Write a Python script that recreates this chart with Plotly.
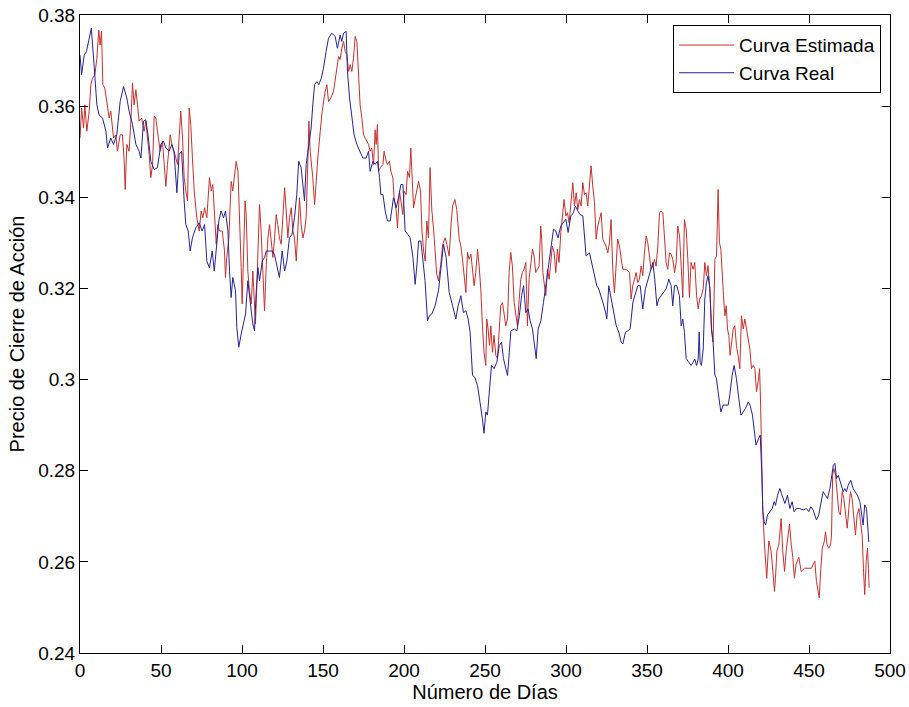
import plotly.graph_objects as go

# ---- Data ----
dias_real = [0, 1, 2.6, 4, 5.7, 7, 8.7, 10.4, 11.8, 13.9, 16, 17, 19, 20.7, 22.7, 24.8, 26.9, 28.9, 30.3, 32.4,
             34.5, 36.5, 37.6, 39.2, 40.6, 42, 43.7, 45.8, 47.8, 49.9, 51.5, 53, 55, 56.7, 58.1, 59.8, 61.2, 62.7,
             64.3, 65.3, 66.8, 68, 69.4, 71.5, 73.6, 75.4, 76.9, 78.3, 79.9, 81.6, 82.9, 84.5, 85.7, 87.1, 88.6,
             89.8, 91.3, 92.3, 93.3, 94.3, 96, 96.8, 98, 99.5, 100.5, 102.2, 103.6, 104.6, 105.7, 106.7, 107.7,
             108.7, 109.8, 110.8, 112.5, 113.9, 115, 117, 118.6, 120, 121.5, 123.1, 124.8, 126.3, 127.7, 129.3,
             130.9, 132.4, 133.8, 135, 136.5, 137.6, 138.6, 139.6, 141.2, 142.7, 143.7, 144.8, 146.2, 147.4, 148.9,
             150.3, 151.9, 153.4, 155.4, 157.5, 158.9, 160.6, 161.6, 162.7, 164.3, 165.1, 166.4, 167.8, 169.2,
             170.9, 172.9, 174.6, 176.6, 178.1, 179.1, 180.8, 182.2, 183.6, 184.9, 185.7, 187, 188.4, 189.8, 191.5,
             193.5, 195.2, 196.6, 198.1, 199.3, 200.7, 202.2, 203.8, 205.5, 206.9, 208, 209, 210.4, 211.7, 213,
             214.5, 215.7, 217.2, 219.2, 221.3, 222.7, 224.4, 226, 227.9, 230, 232, 233.4, 235.1, 236.7, 238.2,
             239.6, 240.8, 242.3, 243.7, 245.4, 247, 248.4, 249.4, 250.5, 251.5, 252.6, 254, 255.6, 257.3, 258.8,
             260.2, 261.4, 262.9, 263.9, 265, 266, 268.1, 269.7, 271.2, 272.6, 273.8, 275.2, 276.6, 277.9, 279.3,
             280.8, 281.6, 282.8, 284.5, 286.1, 287.5, 289, 290.6, 292.3, 293.7, 295.1, 296.8, 298.4, 299.9, 301.3,
             303, 304.6, 305.8, 307.3, 308.7, 310.4, 311.4, 312.4, 314.5, 316.1, 317.6, 319, 320.2, 321.7, 322.7,
             324.4, 325.2, 326.4, 327.9, 329.3, 331, 332.6, 334.1, 335.1, 336.7, 338.2, 339.6, 341.3, 342.9, 344.3,
             345.8, 347.4, 349, 350.5, 352, 353.6, 354.8, 356.1, 357.3, 358.8, 360.2, 361.8, 363.5, 364.9, 365.9,
             367, 368.4, 370, 371.1, 372.1, 373.1, 374.2, 375.8, 377.2, 378.5, 379.5, 380.6, 381.6, 382.2, 382.8,
             383.6, 384.7, 385.7, 386.7, 387.7, 388.8, 389.8, 390.8, 391.9, 392.9, 393.9, 395.6, 397, 399.1, 400.1,
             401.1, 402.6, 403.8, 405.2, 406.7, 408, 409.4, 410.8, 412.5, 413.6, 415.1, 416.3, 417.3, 418.8, 419.9,
             420.9, 421.5, 422.3, 423.2, 424.4, 425.8, 427.3, 428.5, 429.3, 430.6, 432, 433, 434, 435.1, 436.7,
             438.2, 439.6, 440.8, 442.3, 444.3, 446.4, 448.4, 449.9, 451.1, 452.5, 453.6, 454.6, 456, 457.3, 458.7,
             460.2, 461.4, 462.9, 463.9, 465, 466, 467, 468.1, 469.7, 471.1, 472.1, 473.1, 474.2, 475.8, 477.2,
             478.7, 479.9, 481.4, 482.4, 483.4, 484.4, 485.5, 486.5, 486.9]
precio_real = [0.3712, 0.3669, 0.3712, 0.372, 0.3749, 0.3771, 0.369, 0.3603, 0.358, 0.3574, 0.3545, 0.3508, 0.353,
               0.3516, 0.3537, 0.361, 0.3643, 0.3618, 0.3589, 0.356, 0.3516, 0.3501, 0.3486, 0.3567, 0.357, 0.3537,
               0.3479, 0.3461, 0.3465, 0.3516, 0.3523, 0.3508, 0.3501, 0.3516, 0.3497, 0.341, 0.3494, 0.3501, 0.3392,
               0.334, 0.3326, 0.3282, 0.3311, 0.3333, 0.3344, 0.3326, 0.334, 0.326, 0.3245, 0.3282, 0.3238, 0.3297,
               0.3348, 0.337, 0.3355, 0.337, 0.3326, 0.3238, 0.318, 0.3224, 0.3195, 0.3115, 0.3071, 0.31, 0.3115,
               0.3144, 0.3217, 0.318, 0.3151, 0.3122, 0.3107, 0.3188, 0.3246, 0.3217, 0.326, 0.3268, 0.3282, 0.3282,
               0.3282, 0.3275, 0.3253, 0.3224, 0.3282, 0.3238, 0.326, 0.3311, 0.3319, 0.3355, 0.3406, 0.3479, 0.3465,
               0.3428, 0.3392, 0.3472, 0.3508, 0.3552, 0.3603, 0.3647, 0.3654, 0.3647, 0.3661, 0.3683, 0.372, 0.3749,
               0.376, 0.3753, 0.3727, 0.3756, 0.3742, 0.376, 0.3764, 0.3676, 0.3618, 0.3581, 0.3537, 0.3516, 0.3501,
               0.3486, 0.3486, 0.3501, 0.3457, 0.3479, 0.3472, 0.3479, 0.3443, 0.3406, 0.3406, 0.337, 0.3348, 0.3348,
               0.3399, 0.3377, 0.3399, 0.3428, 0.3428, 0.3326, 0.3319, 0.3311, 0.3268, 0.3209, 0.3253, 0.3304,
               0.3304, 0.3253, 0.3217, 0.3129, 0.314, 0.3144, 0.3162, 0.3195, 0.3246, 0.3297, 0.3268, 0.3191, 0.3162,
               0.3133, 0.3162, 0.3184, 0.3147, 0.3151, 0.3133, 0.3104, 0.3009, 0.3005, 0.2987, 0.295, 0.2914, 0.2882,
               0.2929, 0.2922, 0.2973, 0.3031, 0.3024, 0.3038, 0.3075, 0.3082, 0.3046, 0.3024, 0.3009, 0.306, 0.3107,
               0.3111, 0.3107, 0.314, 0.3184, 0.3206, 0.3147, 0.3155, 0.3129, 0.3111, 0.3075, 0.3046, 0.3111, 0.3129,
               0.3169, 0.3206, 0.3235, 0.3279, 0.333, 0.3326, 0.3311, 0.3337, 0.3344, 0.3352, 0.3323, 0.3359, 0.3366,
               0.3381, 0.337, 0.3362, 0.3359, 0.3307, 0.3271, 0.3278, 0.325, 0.3228, 0.3206, 0.3199, 0.3184, 0.317,
               0.3148, 0.3133, 0.3206, 0.3177, 0.3148, 0.3118, 0.3104, 0.3082, 0.3078, 0.3104, 0.3107, 0.3111, 0.317,
               0.3191, 0.3206, 0.3206, 0.3155, 0.3199, 0.322, 0.3235, 0.3257, 0.322, 0.3162, 0.3177, 0.3184, 0.3191,
               0.3199, 0.322, 0.3206, 0.3162, 0.3206, 0.3206, 0.3184, 0.3118, 0.3133, 0.3104, 0.3046, 0.3038, 0.3031,
               0.3038, 0.3045, 0.3031, 0.3045, 0.3104, 0.3038, 0.3031, 0.3067, 0.3177, 0.3213, 0.3228, 0.32, 0.3111,
               0.3082, 0.301, 0.3002, 0.2973, 0.2929, 0.2944, 0.2944, 0.2944, 0.2966, 0.301, 0.3031, 0.3002, 0.2958,
               0.2922, 0.2929, 0.2937, 0.2951, 0.2944, 0.2922, 0.2885, 0.2856, 0.287, 0.2878, 0.279, 0.271, 0.2688,
               0.2681, 0.2703, 0.271, 0.2717, 0.2732, 0.2724, 0.2746, 0.2761, 0.275, 0.2739, 0.2728, 0.2746, 0.2717,
               0.2732, 0.271, 0.2717, 0.2717, 0.2714, 0.2717, 0.271, 0.2721, 0.2714, 0.2703, 0.2692, 0.2703, 0.2732,
               0.2754, 0.2746, 0.2739, 0.2761, 0.279, 0.2812, 0.2816, 0.2783, 0.279, 0.2768, 0.2754, 0.2761, 0.2754,
               0.2768, 0.2779, 0.2761, 0.2754, 0.2746, 0.2732, 0.2703, 0.2681, 0.2725, 0.2717, 0.2666, 0.2644]

dias_estimada = [0, 1, 2.2, 3, 4.2, 5.7, 6.7, 7.7, 9.2, 10.4, 11.6, 12.4, 13.3, 14.1, 15.3, 16.6, 18, 19, 20.7,
                 22.1, 23.1, 24.8, 26.2, 27.3, 27.9, 28.9, 30.3, 31.4, 32.4, 33.4, 34.5, 35.5, 36.5, 38, 39.6, 40.6,
                 41.7, 42.7, 43.7, 44.8, 45.8, 46.8, 47.8, 49.5, 50.9, 52, 53, 54, 55.7, 56.7, 58.1, 60.2, 62.2,
                 63.3, 64.3, 65.3, 66.4, 67.4, 68.4, 69.4, 70.5, 72.1, 73.6, 74.8, 75.8, 76.9, 78.3, 79.9, 81, 82,
                 83, 84.1, 85.1, 86.1, 87.8, 89.2, 89.8, 90.6, 91.9, 92.7, 93.3, 94.3, 95.4, 96.4, 97.5, 98.5, 99.5,
                 100.1, 101, 101.9, 102.6, 103.6, 104.6, 105.7, 106.7, 107.7, 108.3, 109.2, 110, 110.8, 111.8, 112.9,
                 113.9, 115, 116, 117, 118.1, 119.1, 120.1, 121.1, 122.1, 123.1, 124.2, 125.2, 126.3, 127.3, 128.3,
                 129.3, 130.4, 131.4, 132.4, 133.5, 134.5, 135.5, 136.5, 137.6, 138.6, 139.6, 140.7, 141.3, 142.1,
                 142.9, 143.7, 144.8, 145.8, 146.8, 148.3, 149.5, 151.3, 152.4, 153.4, 154.8, 156.5, 157.5, 158.5,
                 159.6, 160.6, 161.6, 162.7, 163.7, 164.7, 165.8, 166.8, 167.8, 168.8, 169.9, 170.9, 171.9, 172.9,
                 174, 175, 176, 177, 178.1, 179.1, 180.1, 181.2, 182.2, 182.8, 183.6, 184.3, 185.3, 187, 187.7, 189,
                 189.8, 191, 191.9, 193.1, 193.9, 195.2, 196, 197.2, 198.1, 199.3, 200.1, 201.3, 202.2, 203.4, 204.2,
                 205, 205.9, 207, 208, 209, 210.2, 211.1, 212.1, 213.1, 214.1, 215.1, 216.1, 217.2, 218.2, 219.2,
                 220.2, 221.3, 222.7, 223.9, 225.4, 226.4, 227.9, 229, 230, 231.4, 232.6, 234.1, 235.1, 236.1, 237.1,
                 238.2, 239.2, 240.2, 241.3, 242.3, 243.3, 244.3, 245.4, 246.4, 247.4, 248.4, 249.4, 250.5, 251.1,
                 251.9, 252.8, 253.6, 254.6, 255.6, 256.7, 257.7, 258.7, 259.7, 260.8, 261.8, 262.8, 263.9, 264.9,
                 265.9, 266.9, 268, 269, 270, 271.1, 272.1, 273.1, 274.1, 275.2, 276.2, 277.2, 278.3, 279.3, 280.3,
                 281.3, 282.4, 283.4, 284.4, 285, 285.7, 286.5, 287.5, 288.6, 289.6, 290.6, 291.6, 292.7, 293.7,
                 294.7, 295.7, 296.8, 297.8, 298.8, 299.9, 300.9, 301.9, 303.3, 304.2, 305.2, 306.3, 307.3, 308.3,
                 309.3, 310.4, 311.4, 312.4, 313.4, 314.5, 315.5, 316.5, 317.6, 318.6, 319.6, 320.6, 321.7, 322.7,
                 323.7, 324.7, 325.8, 326.8, 327.8, 328.9, 329.9, 330.9, 331.9, 333, 334, 335, 337.1, 339.2, 340.2,
                 341.2, 342.3, 343.3, 344.3, 345.3, 346.4, 347.4, 348.4, 349.5, 350.5, 351.5, 352.5, 353.6, 354.6,
                 355.6, 356.7, 357.7, 358.7, 359.8, 360.8, 361.8, 362.8, 363.9, 364.9, 365.9, 367, 368, 369, 370.1,
                 371.1, 372.1, 373.1, 374.2, 375.2, 376.2, 377.2, 378.5, 379.5, 380.6, 381.6, 382.6, 383.6, 384.7,
                 385.7, 386.7, 387.7, 388.8, 389.8, 390.8, 391.9, 392.9, 393.9, 394.7, 395.6, 396.4, 397.2, 398.1,
                 398.9, 399.7, 400.5, 401.3, 402.2, 403.2, 404.2, 405.2, 406.2, 407.3, 408.3, 409.4, 410.4, 411.4,
                 412.5, 413.5, 414.5, 415.6, 416.6, 417.6, 418.6, 419.5, 420.1, 420.7, 421.5, 422.5, 423.9, 425.2,
                 426.6, 427.7, 428.7, 429.3, 430.2, 431.4, 432.8, 433.8, 434.9, 435.9, 436.9, 438, 439, 440, 441,
                 442, 443.7, 445.2, 447.2, 449.3, 450.5, 451.5, 452.5, 453.6, 454.6, 455.6, 456.3, 457.3, 458.2,
                 459.4, 460.2, 461.2, 462.2, 463.3, 463.9, 464.6, 465.3, 466.4, 467.4, 468.4, 469.4, 470.5, 471.5,
                 472.5, 473.6, 474.6, 475.6, 476.6, 477.7, 478.7, 479.7, 480.8, 481.8, 482.8, 483.6, 484.4, 485.3,
                 486.1, 486.7, 487.1]
precio_estimada = [0.353, 0.3596, 0.3552, 0.3603, 0.3545, 0.3589, 0.3647, 0.3661, 0.3669, 0.3705, 0.3767, 0.3734,
                   0.3764, 0.3647, 0.364, 0.3603, 0.3574, 0.3589, 0.353, 0.3537, 0.3501, 0.3537, 0.3537, 0.3479,
                   0.3417, 0.3516, 0.3501, 0.3567, 0.3651, 0.3603, 0.3636, 0.3603, 0.3567, 0.3574, 0.3545, 0.3567,
                   0.353, 0.3494, 0.3443, 0.3472, 0.3578, 0.3574, 0.3545, 0.3501, 0.3523, 0.3472, 0.3424, 0.3472,
                   0.3537, 0.3516, 0.3501, 0.3472, 0.3589, 0.353, 0.3443, 0.3414, 0.3392, 0.3596, 0.3559, 0.3486,
                   0.3414, 0.3355, 0.3326, 0.337, 0.3355, 0.3377, 0.3355, 0.3443, 0.3414, 0.3428, 0.3355, 0.3297,
                   0.334, 0.3326, 0.3326, 0.3282, 0.3224, 0.3268, 0.3311, 0.3399, 0.3435, 0.3414, 0.3443, 0.3479,
                   0.3457, 0.337, 0.3246, 0.3166, 0.3297, 0.3392, 0.3362, 0.3238, 0.3195, 0.3166, 0.3238, 0.3151,
                   0.3122, 0.3209, 0.3326, 0.3384, 0.3326, 0.3238, 0.3151, 0.3253, 0.3311, 0.334, 0.3297, 0.3268,
                   0.3311, 0.3362, 0.334, 0.3311, 0.3297, 0.3355, 0.3421, 0.337, 0.3311, 0.3355, 0.3377, 0.3326,
                   0.3311, 0.326, 0.334, 0.3399, 0.334, 0.3311, 0.3326, 0.3355, 0.3486, 0.3567, 0.3501, 0.3472,
                   0.3443, 0.3384, 0.3443, 0.3486, 0.3545, 0.3589, 0.3632, 0.3647, 0.361, 0.3618, 0.3632, 0.3658,
                   0.3676, 0.3709, 0.3702, 0.3727, 0.3742, 0.372, 0.3713, 0.3676, 0.3691, 0.3676, 0.3705, 0.3753,
                   0.3742, 0.3661, 0.3603, 0.3574, 0.3537, 0.353, 0.3523, 0.3516, 0.3501, 0.3508, 0.3472, 0.3548,
                   0.3516, 0.356, 0.3457, 0.3465, 0.3472, 0.3501, 0.3479, 0.3472, 0.3479, 0.3457, 0.3443, 0.3399,
                   0.337, 0.3333, 0.3414, 0.3392, 0.3362, 0.3414, 0.3406, 0.3457, 0.3443, 0.3508, 0.3443, 0.3377,
                   0.3399, 0.3414, 0.3435, 0.3414, 0.3326, 0.3282, 0.326, 0.3348, 0.3311, 0.3465, 0.337, 0.3333,
                   0.3282, 0.3231, 0.3217, 0.3253, 0.3297, 0.3311, 0.3297, 0.3271, 0.3337, 0.3381, 0.3395, 0.3373,
                   0.3308, 0.3293, 0.3264, 0.3235, 0.3191, 0.3279, 0.3264, 0.3275, 0.3242, 0.3206, 0.3235, 0.3286,
                   0.3249, 0.3198, 0.3118, 0.306, 0.3031, 0.3133, 0.3111, 0.3075, 0.3118, 0.306, 0.3097, 0.3053,
                   0.3046, 0.3111, 0.3162, 0.3169, 0.3147, 0.3118, 0.3133, 0.3235, 0.3279, 0.3249, 0.3169, 0.314,
                   0.3118, 0.3176, 0.322, 0.3235, 0.3242, 0.3257, 0.3118, 0.322, 0.3249, 0.3286, 0.3271, 0.3235,
                   0.3242, 0.3249, 0.3337, 0.3308, 0.3235, 0.3206, 0.3184, 0.3242, 0.322, 0.3257, 0.3293, 0.3279,
                   0.3235, 0.3286, 0.3257, 0.3323, 0.3359, 0.3395, 0.3359, 0.3366, 0.3344, 0.339, 0.3432, 0.3381,
                   0.341, 0.3373, 0.3395, 0.3381, 0.3432, 0.3406, 0.341, 0.3381, 0.3425, 0.3469, 0.3425, 0.3388,
                   0.3308, 0.3337, 0.3351, 0.3366, 0.3308, 0.33, 0.3293, 0.3278, 0.33, 0.3351, 0.324, 0.319, 0.3249,
                   0.3308, 0.3293, 0.3271, 0.3242, 0.3242, 0.3235, 0.3177, 0.3206, 0.322, 0.3235, 0.3213, 0.322,
                   0.3249, 0.3228, 0.3278, 0.3315, 0.33, 0.3264, 0.3242, 0.3249, 0.3264, 0.3249, 0.3293, 0.3366,
                   0.337, 0.3366, 0.3308, 0.3257, 0.3242, 0.3278, 0.3275, 0.3264, 0.3235, 0.3257, 0.3337, 0.3315,
                   0.3249, 0.318, 0.3351, 0.333, 0.3264, 0.318, 0.3257, 0.3242, 0.3257, 0.3184, 0.3155, 0.3177,
                   0.3184, 0.3199, 0.3257, 0.3228, 0.325, 0.3199, 0.3111, 0.3082, 0.3264, 0.3271, 0.3417, 0.3301,
                   0.3286, 0.3228, 0.3184, 0.314, 0.3162, 0.3111, 0.3097, 0.3053, 0.3082, 0.3111, 0.3118, 0.3075,
                   0.3053, 0.3024, 0.314, 0.3111, 0.3133, 0.3111, 0.3097, 0.3067, 0.3024, 0.3031, 0.3024, 0.2973,
                   0.2995, 0.3024, 0.2951, 0.2805, 0.271, 0.2639, 0.2564, 0.2646, 0.2624, 0.2579, 0.2535, 0.2564,
                   0.2624, 0.2639, 0.2695, 0.2624, 0.2579, 0.2624, 0.2654, 0.2683, 0.2639, 0.261, 0.2564, 0.2594,
                   0.261, 0.2579, 0.2586, 0.2586, 0.2586, 0.2586, 0.2594, 0.2601, 0.2557, 0.2535, 0.2521, 0.2586,
                   0.263, 0.2644, 0.2666, 0.2637, 0.263, 0.2637, 0.2659, 0.279, 0.2805, 0.279, 0.2754, 0.271, 0.2703,
                   0.2754, 0.2739, 0.2703, 0.2674, 0.2717, 0.2754, 0.2739, 0.2688, 0.2659, 0.2703, 0.2717, 0.2688,
                   0.2659, 0.2586, 0.2528, 0.2601, 0.263, 0.2586, 0.2543]

x_tick_vals = [0, 50, 100, 150, 200, 250, 300, 350, 400, 450, 500]
y_tick_vals = [0.24, 0.26, 0.28, 0.30, 0.32, 0.34, 0.36, 0.38]
y_tick_text = ["0.24", "0.26", "0.28", "0.3", "0.32", "0.34", "0.36", "0.38"]

FONT = "Arial, 'Liberation Sans', Helvetica, sans-serif"

fig = go.Figure()
fig.add_trace(go.Scatter(x=dias_estimada, y=precio_estimada, mode="lines", name="Curva Estimada",
                         line=dict(color="#c8302e", width=1)))
fig.add_trace(go.Scatter(x=dias_real, y=precio_real, mode="lines", name="Curva Real",
                         line=dict(color="#26239a", width=1)))

axis_common = dict(showline=True, linecolor="black", linewidth=1, mirror="ticks",
                   ticks="inside", ticklen=8, tickcolor="black", showgrid=False, zeroline=False,
                   automargin=False,
                   tickfont=dict(family=FONT, size=19, color="black"))

fig.update_layout(
    width=909, height=707,
    paper_bgcolor="white", plot_bgcolor="white",
    margin=dict(l=80, r=19, t=15, b=54, autoexpand=False),
    font=dict(family=FONT, color="black"),
    showlegend=True,
    legend=dict(x=0.989, y=0.984, xanchor="right", yanchor="top",
                bgcolor="white", bordercolor="black", borderwidth=1,
                font=dict(family=FONT, size=19, color="black"),
                itemwidth=55, tracegroupgap=0),
)
fig.update_xaxes(range=[0, 500], tickvals=x_tick_vals,
                 title=dict(text="Número de Días", font=dict(family=FONT, size=20), standoff=4),
                 **axis_common)
fig.update_yaxes(range=[0.24, 0.38], tickvals=y_tick_vals, ticktext=y_tick_text,
                 title=dict(text="Precio de Cierre de Acción", font=dict(family=FONT, size=20), standoff=8),
                 **axis_common)

fig.write_html("out.html")
